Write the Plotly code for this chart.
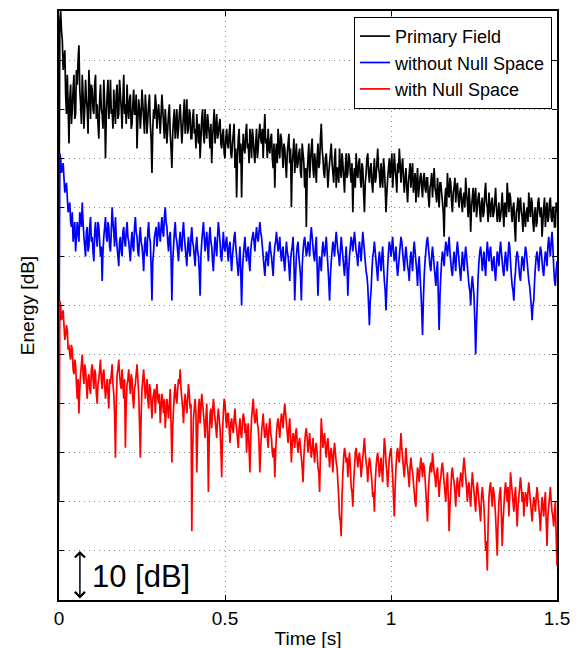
import numpy as np
import plotly.graph_objects as go

# === DATA (energy in dB, one sample every 2.5 ms, 0 .. 1.5 s) ===
dt = 0.0025

primary_field = [
    75, 118, 120, 116, 114, 108, 110, 112, 103, 99, 107, 101, 93, 102, 105, 97, 100, 104, 107, 98,
    99, 108, 105, 110, 113, 104, 101, 97, 107, 103, 96, 100, 106, 102, 100, 95, 108, 104, 98, 105,
    104, 100, 99, 105, 107, 98, 101, 97, 94, 102, 105, 100, 99, 96, 106, 101, 90, 99, 103, 106,
    98, 101, 106, 99, 100, 96, 104, 100, 97, 103, 105, 98, 99, 106, 103, 100, 96, 102, 107, 99,
    101, 97, 105, 100, 98, 102, 103, 96, 97, 101, 104, 99, 99, 103, 92, 98, 102, 100, 96, 99,
    104, 101, 98, 95, 103, 100, 95, 98, 101, 103, 97, 94, 87, 96, 100, 98, 103, 101, 96, 99,
    101, 98, 95, 99, 103, 100, 97, 94, 100, 97, 93, 96, 99, 101, 95, 92, 88, 95, 98, 100,
    94, 97, 100, 94, 96, 99, 101, 97, 93, 96, 99, 102, 95, 98, 102, 95, 96, 100, 99, 94,
    94, 98, 100, 95, 96, 92, 99, 96, 93, 97, 90, 94, 98, 100, 95, 93, 100, 96, 94, 99,
    97, 95, 92, 97, 89, 94, 97, 100, 93, 96, 99, 94, 95, 97, 98, 93, 92, 95, 96, 91,
    90, 94, 96, 93, 92, 95, 97, 91, 90, 93, 95, 97, 88, 92, 82, 90, 94, 96, 89, 93,
    82, 91, 95, 92, 91, 95, 97, 92, 93, 89, 96, 94, 90, 96, 94, 91, 89, 93, 96, 90,
    92, 95, 97, 94, 93, 96, 90, 95, 99, 93, 94, 90, 96, 92, 91, 94, 95, 90, 88, 93,
    84, 91, 93, 89, 96, 92, 90, 95, 94, 91, 88, 93, 92, 89, 86, 91, 93, 95, 89, 92,
    80, 89, 91, 94, 87, 90, 93, 88, 89, 91, 92, 87, 86, 93, 91, 89, 84, 88, 76, 87,
    90, 93, 86, 89, 92, 94, 88, 86, 91, 89, 85, 90, 93, 88, 89, 94, 97, 92, 90, 87,
    86, 90, 91, 88, 84, 87, 89, 91, 93, 89, 87, 85, 90, 92, 84, 88, 88, 85, 92, 88,
    86, 91, 89, 86, 83, 88, 91, 86, 87, 91, 90, 87, 85, 89, 79, 86, 88, 84, 91, 87,
    86, 89, 90, 86, 84, 89, 88, 83, 79, 85, 87, 90, 91, 87, 85, 88, 89, 85, 83, 87,
    90, 85, 86, 89, 92, 88, 87, 84, 89, 86, 84, 90, 88, 84, 79, 83, 86, 88, 90, 86,
    88, 91, 84, 87, 91, 88, 86, 83, 89, 87, 92, 89, 85, 88, 90, 86, 83, 86, 88, 84,
    81, 85, 87, 89, 84, 87, 89, 83, 85, 87, 81, 85, 88, 82, 84, 86, 87, 84, 82, 86,
    87, 84, 83, 86, 86, 82, 80, 84, 85, 87, 82, 85, 88, 84, 83, 81, 86, 83, 80, 85,
    85, 83, 81, 79, 74, 82, 84, 80, 87, 83, 82, 86, 85, 81, 79, 83, 84, 86, 81, 84,
    85, 82, 80, 83, 84, 81, 79, 82, 83, 80, 86, 83, 81, 78, 84, 81, 75, 80, 82, 84,
    79, 82, 84, 78, 80, 82, 83, 79, 77, 81, 82, 78, 79, 83, 85, 81, 80, 77, 83, 80,
    78, 81, 82, 78, 79, 81, 84, 80, 77, 79, 81, 77, 78, 80, 83, 79, 76, 81, 80, 78,
    85, 82, 79, 83, 82, 79, 77, 80, 81, 76, 73, 79, 80, 82, 77, 81, 82, 79, 78, 75,
    81, 78, 76, 79, 80, 77, 83, 80, 78, 82, 81, 77, 75, 79, 80, 76, 77, 81, 82, 79,
    78, 80, 74, 77, 80, 82, 76, 79, 81, 77, 78, 81, 82, 78, 77, 80, 80, 76, 76, 81,
    79,
]

without_null_space = [
    49, 91, 90, 87, 88, 89, 86, 83, 84, 85, 82, 79, 80, 81, 77, 76, 79, 73, 75, 77,
    71, 74, 77, 75, 73, 79, 78, 76, 81, 77, 74, 72, 70, 75, 76, 71, 72, 76, 78, 73,
    74, 71, 69, 75, 77, 74, 72, 77, 76, 73, 70, 72, 65, 71, 74, 76, 78, 74, 73, 77,
    76, 72, 71, 75, 80, 77, 75, 72, 78, 74, 72, 70, 68, 73, 74, 71, 70, 75, 76, 73,
    72, 75, 77, 74, 73, 71, 69, 73, 75, 72, 71, 76, 78, 75, 74, 71, 70, 74, 76, 73,
    72, 70, 67, 72, 74, 71, 70, 75, 77, 74, 73, 68, 61, 69, 71, 74, 75, 76, 72, 74,
    77, 75, 73, 76, 78, 75, 74, 78, 80, 77, 76, 73, 71, 74, 75, 70, 61, 69, 72, 75,
    77, 74, 73, 71, 69, 73, 75, 72, 71, 75, 77, 74, 72, 70, 68, 72, 74, 71, 70, 74,
    76, 73, 72, 70, 68, 72, 74, 71, 70, 67, 62, 70, 73, 75, 77, 74, 71, 73, 75, 72,
    69, 74, 76, 73, 72, 69, 67, 71, 74, 72, 70, 74, 77, 75, 73, 70, 69, 72, 75, 72,
    71, 73, 74, 71, 69, 72, 73, 70, 67, 70, 72, 74, 75, 72, 70, 68, 66, 69, 72, 67,
    60, 67, 70, 72, 74, 71, 69, 71, 72, 69, 67, 71, 73, 74, 75, 73, 71, 74, 76, 74,
    73, 75, 77, 75, 74, 72, 70, 68, 66, 69, 71, 70, 68, 71, 73, 71, 70, 68, 66, 70,
    72, 73, 75, 73, 71, 72, 74, 71, 69, 71, 72, 69, 67, 70, 73, 71, 70, 68, 65, 69,
    71, 72, 74, 69, 61, 66, 70, 72, 73, 70, 68, 66, 61, 68, 71, 73, 74, 72, 70, 71,
    73, 72, 70, 74, 76, 74, 72, 70, 69, 72, 74, 68, 62, 67, 70, 69, 67, 71, 73, 71,
    70, 72, 74, 71, 68, 65, 61, 66, 69, 71, 73, 72, 70, 73, 75, 73, 71, 70, 68, 71,
    74, 72, 70, 68, 66, 69, 72, 68, 62, 67, 70, 72, 74, 73, 71, 73, 75, 73, 71, 70,
    68, 71, 73, 71, 69, 72, 75, 73, 71, 69, 67, 66, 64, 60, 56, 61, 63, 67, 70, 71,
    73, 71, 69, 67, 65, 69, 71, 69, 67, 70, 72, 68, 65, 63, 59, 64, 68, 71, 73, 72,
    70, 72, 74, 71, 69, 70, 72, 68, 66, 68, 70, 72, 74, 73, 71, 69, 67, 70, 72, 70,
    68, 67, 65, 69, 71, 69, 67, 71, 73, 71, 69, 67, 64, 68, 70, 66, 63, 59, 54, 61,
    66, 69, 71, 73, 74, 72, 70, 68, 67, 70, 72, 70, 68, 66, 64, 67, 69, 62, 55, 62,
    66, 69, 71, 70, 68, 71, 73, 72, 70, 72, 74, 71, 69, 67, 66, 69, 71, 69, 67, 71,
    73, 71, 69, 67, 65, 68, 71, 69, 67, 70, 72, 70, 68, 66, 64, 63, 60, 64, 66, 64,
    62, 57, 50, 56, 61, 66, 69, 71, 72, 70, 67, 69, 71, 68, 66, 70, 73, 71, 69, 71,
    72, 69, 67, 69, 70, 67, 65, 68, 71, 70, 68, 71, 73, 71, 69, 67, 66, 69, 71, 69,
    67, 70, 73, 72, 69, 66, 64, 63, 61, 65, 67, 70, 71, 70, 68, 66, 65, 68, 70, 69,
    67, 70, 72, 71, 69, 67, 65, 64, 62, 60, 57, 60, 61, 65, 68, 70, 71, 69, 67, 70,
    72, 71, 69, 67, 66, 69, 71, 70, 68, 72, 74, 72, 70, 73, 75, 72, 68, 65, 64, 67,
    69,
]

with_null_space = [
    20, 61, 60, 57, 58, 59, 56, 53, 54, 56, 55, 51, 52, 50, 49, 52, 51, 47, 46, 49,
    48, 44, 41, 45, 38, 43, 46, 48, 50, 46, 44, 48, 47, 44, 41, 45, 46, 43, 42, 47,
    48, 45, 43, 47, 46, 42, 40, 44, 45, 47, 49, 45, 43, 46, 47, 44, 41, 43, 45, 42,
    39, 45, 44, 46, 48, 44, 42, 38, 29, 40, 46, 47, 49, 46, 44, 43, 47, 44, 41, 45,
    31, 40, 44, 45, 47, 44, 42, 46, 45, 41, 39, 43, 44, 46, 48, 45, 42, 36, 29, 38,
    43, 45, 47, 44, 41, 43, 45, 41, 39, 44, 43, 40, 37, 41, 42, 43, 38, 42, 44, 41,
    40, 42, 36, 39, 42, 40, 38, 41, 35, 38, 41, 39, 37, 40, 43, 36, 28, 35, 39, 42,
    44, 41, 40, 43, 45, 44, 47, 43, 41, 39, 36, 40, 42, 40, 38, 41, 44, 42, 39, 40,
    14, 30, 37, 39, 41, 38, 26, 34, 39, 41, 36, 39, 42, 40, 38, 36, 33, 37, 40, 34,
    22, 33, 38, 39, 35, 38, 41, 39, 37, 35, 33, 37, 39, 37, 35, 31, 25, 34, 38, 41,
    40, 37, 35, 38, 38, 35, 32, 36, 37, 35, 34, 37, 39, 36, 35, 33, 31, 35, 37, 34,
    33, 36, 38, 37, 34, 36, 30, 34, 36, 31, 26, 33, 37, 39, 41, 38, 36, 37, 39, 36,
    35, 32, 26, 31, 34, 36, 38, 35, 33, 34, 36, 33, 31, 35, 37, 34, 33, 30, 29, 31,
    25, 30, 34, 36, 37, 35, 33, 36, 38, 37, 35, 38, 40, 38, 36, 34, 32, 35, 37, 33,
    28, 32, 34, 33, 31, 34, 35, 32, 30, 32, 33, 31, 29, 27, 24, 29, 32, 34, 35, 33,
    30, 32, 34, 31, 29, 31, 33, 30, 28, 31, 32, 30, 27, 26, 22, 30, 37, 34, 31, 33,
    34, 31, 29, 32, 33, 30, 27, 30, 31, 29, 26, 30, 32, 30, 28, 27, 24, 21, 17, 16,
    13, 21, 26, 29, 31, 30, 28, 29, 25, 28, 30, 27, 23, 22, 19, 24, 27, 30, 31, 29,
    27, 29, 30, 28, 25, 27, 29, 31, 33, 30, 28, 27, 24, 27, 29, 28, 26, 24, 21, 22,
    18, 24, 27, 29, 30, 28, 25, 27, 29, 26, 24, 29, 33, 31, 28, 26, 23, 26, 29, 30,
    31, 28, 25, 21, 17, 23, 27, 30, 31, 29, 28, 31, 34, 31, 29, 27, 25, 28, 31, 28,
    27, 25, 23, 27, 29, 27, 26, 24, 22, 20, 19, 24, 27, 26, 24, 27, 29, 27, 25, 28,
    27, 25, 22, 19, 16, 22, 25, 27, 28, 26, 30, 28, 26, 25, 23, 26, 27, 24, 21, 24,
    25, 27, 28, 26, 24, 22, 20, 24, 26, 21, 14, 19, 22, 26, 27, 25, 24, 22, 19, 23,
    25, 23, 21, 24, 26, 25, 23, 27, 29, 27, 25, 23, 20, 23, 24, 21, 19, 23, 26, 24,
    22, 20, 18, 22, 24, 22, 20, 18, 16, 21, 23, 21, 19, 15, 10, 12, 6, 15, 21, 23,
    24, 21, 19, 23, 22, 20, 17, 13, 9, 16, 20, 22, 23, 17, 11, 16, 19, 22, 24, 22,
    20, 23, 17, 21, 26, 24, 22, 20, 18, 21, 23, 19, 15, 19, 21, 23, 25, 23, 20, 22,
    17, 20, 22, 21, 19, 22, 24, 22, 20, 18, 16, 19, 21, 20, 18, 21, 23, 21, 19, 17,
    14, 18, 21, 19, 17, 20, 22, 16, 11, 17, 19, 21, 23, 20, 18, 17, 15, 18, 20, 13,
    7,
]

series_names = ["Primary Field", "without Null Space", "with Null Space"]
series_colors = ["#000000", "#0000ff", "#ff0000"]

x_ticks = [0, 0.5, 1, 1.5]
x_ticktext = ["0", "0.5", "1", "1.5"]
y_ticks = list(range(0, 121, 10))

# === FIGURE ===
fig = go.Figure()
for vals, name, color in zip([primary_field, without_null_space, with_null_space],
                             series_names, series_colors):
    t = np.arange(len(vals)) * dt
    fig.add_trace(go.Scatter(
        x=t, y=vals, mode="lines", name=name,
        line=dict(color=color, width=1.7, simplify=False)
    ))

# 10 dB scale arrow
fig.add_annotation(
    x=0.063, y=10, ax=0.063, ay=0, xref="x", yref="y", axref="x", ayref="y",
    text="", showarrow=True, arrowhead=4, arrowside="end+start",
    arrowsize=1.3, arrowwidth=1.5, arrowcolor="black"
)
fig.add_annotation(
    x=0.092, y=4.8, xref="x", yref="y", text="10 [dB]", showarrow=False,
    xanchor="left", yanchor="middle",
    font=dict(family="Liberation Sans, Arial", size=31, color="black")
)

axis_common = dict(
    showline=True, linecolor="black", linewidth=1.5, mirror="ticks",
    ticks="inside", ticklen=5, tickcolor="black",
    showgrid=True, gridcolor="#8c8c8c", griddash="1px,4px", gridwidth=1,
    zeroline=False,
)

fig.update_xaxes(
    range=[0, 1.5], tickvals=x_ticks, ticktext=x_ticktext,
    tickfont=dict(size=19, color="black"),
    title=dict(text="Time [s]", font=dict(size=19, color="black"), standoff=4),
    automargin=False, **axis_common
)
fig.update_yaxes(
    range=[0, 120], tickvals=y_ticks, showticklabels=False,
    title=dict(text="Energy [dB]", font=dict(size=19, color="black"), standoff=18),
    automargin=False, **axis_common
)

# page body adds 8px, so margins are shifted to keep the plot box in place
fig.update_layout(
    width=579, height=648,
    margin=dict(l=51, r=30, t=3, b=56),
    paper_bgcolor="white", plot_bgcolor="white",
    font=dict(family="Liberation Sans, Arial", color="black"),
    showlegend=True,
    legend=dict(
        x=0.99, y=0.99, xanchor="right", yanchor="top",
        bgcolor="white", bordercolor="black", borderwidth=1,
        font=dict(size=18, color="black"),
        tracegroupgap=0, itemwidth=30,
    ),
)

fig.write_html("out.html")
